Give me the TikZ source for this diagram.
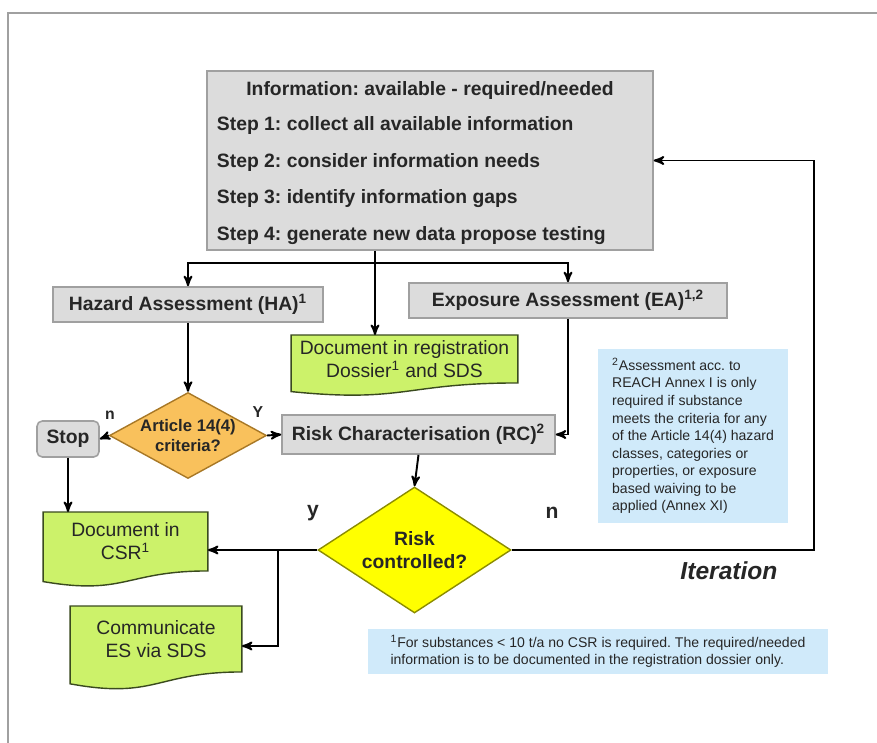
\documentclass[tikz,border=0pt]{standalone}
\usepackage{fontspec}
\setmainfont{Liberation Sans}
\frenchspacing
\usetikzlibrary{arrows,shapes.geometric,calc,backgrounds}

\definecolor{boxgray}{HTML}{DCDCDC}
\definecolor{linegray}{HTML}{A0A0A0}
\definecolor{docgreen}{HTML}{CCF26A}
\definecolor{docedge}{HTML}{3A4A1E}
\definecolor{critorange}{HTML}{F9C15C}
\definecolor{critedge}{HTML}{A87826}
\definecolor{riskyellow}{HTML}{FFFF00}
\definecolor{riskedge}{HTML}{8C8C00}
\definecolor{noteblue}{HTML}{D0EAFA}
\definecolor{inktext}{HTML}{262626}

% green document shape with wavy bottom, drawn behind node #1
\newcommand{\docwave}[1]{%
  \begin{scope}[on background layer]
  \path[draw=docedge,fill=docgreen,line width=0.8pt]
    let \p1=(#1.north), \p2=(#1.south), \n1={\y1-\y2} in
    (#1.north west) -- (#1.north east) -- (#1.south east)
    .. controls (#1.south) and ($(#1.south)+(0pt,{-0.42*\n1})$) ..
    ($(#1.south west)+(0pt,{-0.18*\n1})$) -- cycle;
  \end{scope}}

\begin{document}
\begin{tikzpicture}[x=0.02cm,y=-0.02cm,>=stealth',line width=1.1pt,
  font=\fontsize{11}{13}\selectfont\bfseries,text=inktext,
  graybox/.style={draw=linegray,fill=boxgray,line width=0.9pt,inner sep=0pt},
  docbox/.style={inner sep=0pt,align=center,font=\fontsize{11}{13}\selectfont},
  notebox/.style={fill=noteblue,inner sep=0pt,align=left,font=\fontsize{8}{10}\selectfont},
  steptext/.style={anchor=west,inner sep=0pt}]

\useasboundingbox (0,0) rectangle (877,743);
\draw[linegray,line width=0.8pt] (8,743) -- (8,13) -- (877,13);

% information box
\node[graybox,minimum width=8.92cm,minimum height=3.58cm] (info) at (430,160.5) {};
\node (title) at (430,91) {Information: available - required/needed};
\node[steptext] (step1) at (216,126) {Step 1: collect all available information};
\node[steptext] (step2) at (216,163) {Step 2: consider information needs};
\node[steptext] (step3) at (216,199) {Step 3: identify information gaps};
\node[steptext] (step4) at (216,236) {Step 4: generate new data propose testing};

% assessments
\node[graybox,minimum width=5.4cm,minimum height=0.7cm] (ha) at (188,304.5)
  {Hazard Assessment (HA)\textsuperscript{1}};
\node[graybox,minimum width=6.36cm,minimum height=0.7cm] (ea) at (568,300.5)
  {Exposure Assessment (EA)\textsuperscript{1,2}};
\node[docbox,minimum width=4.5cm,minimum height=0.92cm] (docreg) at (404.5,359)
  {Document in registration\\Dossier\textsuperscript{1} and SDS};
\docwave{docreg}

% decisions
\node[diamond,draw=critedge,fill=critorange,line width=0.8pt,inner sep=0pt,
  aspect=1.83,minimum width=3.14cm,minimum height=1.72cm,align=center,
  font=\fontsize{9.5}{11}\selectfont\bfseries] (art) at (188,435.5)
  {Article 14(4)\\criteria?};
\node[graybox,rounded corners=3pt,minimum width=1.24cm,minimum height=0.72cm] (stop)
  at (68,439) {Stop};
\node[graybox,minimum width=5.46cm,minimum height=0.78cm] (rc) at (418.5,434.5)
  {Risk Characterisation (RC)\textsuperscript{2}};
\node[diamond,draw=riskedge,fill=riskyellow,line width=0.8pt,inner sep=0pt,
  aspect=1.53,minimum width=3.86cm,minimum height=2.52cm,align=center] (risk)
  at (414.5,550) {Risk\\controlled?};

\node[docbox,minimum width=3.26cm,minimum height=1.14cm] (csr) at (125.5,541.5)
  {Document in\\CSR\textsuperscript{1}};
\docwave{csr}
\node[docbox,minimum width=3.4cm,minimum height=1.28cm] (comm) at (156,639)
  {Communicate\\ES via SDS};
\docwave{comm}

% labels
\node[font=\fontsize{9}{10}\selectfont\bfseries] (artno) at (110,415) {n};
\node[font=\fontsize{9}{10}\selectfont\bfseries] (artyes) at (258,412) {Y};
\node[font=\fontsize{12}{14}\selectfont\bfseries] (riskyes) at (313,513) {y};
\node[font=\fontsize{12}{14}\selectfont\bfseries] (riskno) at (552,513) {n};
\node[font=\fontsize{14}{16}\selectfont\bfseries\itshape] (iter) at (729,571) {Iteration};

% footnotes
\node[notebox,minimum width=3.8cm,minimum height=3.48cm] (note2) at (693,436)
  {\textsuperscript{2}Assessment acc. to\\REACH Annex I is only\\required if substance\\
   meets the criteria for any\\of the Article 14(4) hazard\\classes, categories or\\
   properties, or exposure\\based waiving to be\\applied (Annex XI)};
\node[notebox,minimum width=9.2cm,minimum height=0.9cm] (note1) at (598,651.5)
  {\textsuperscript{1}For substances < 10 t/a no CSR is required. The required/needed\\
   information is to be documented in the registration dossier only.};

% connectors
\coordinate (split) at (375,263);
\coordinate (fork) at (278,550);
\coordinate (loop) at (814,550);
\draw (info.south -| split) -- (split);
\draw[->] (split) -| (ha.north);
\draw[->] (split) -| (ea.north);
\draw[->] (split) -- (split |- docreg.north);
\draw[->] (ha.south) -- (art.north);
\draw[->] (art.west) -- (stop.east);
\draw[->] (art.east) -- (rc.west);
\draw[->] (stop.south) -- (stop.south |- csr.north);
\draw[->] (ea.south) |- (rc.east);
\draw[->] (rc.south) -- (risk.north);
\draw[->] (risk.west) -- (csr.east |- risk.west);
\draw[->] (fork) |- ([yshift=-0.14cm]comm.east);
\draw[->] (risk.east) -- (loop) |- (info.east);

\end{tikzpicture}
\end{document}
